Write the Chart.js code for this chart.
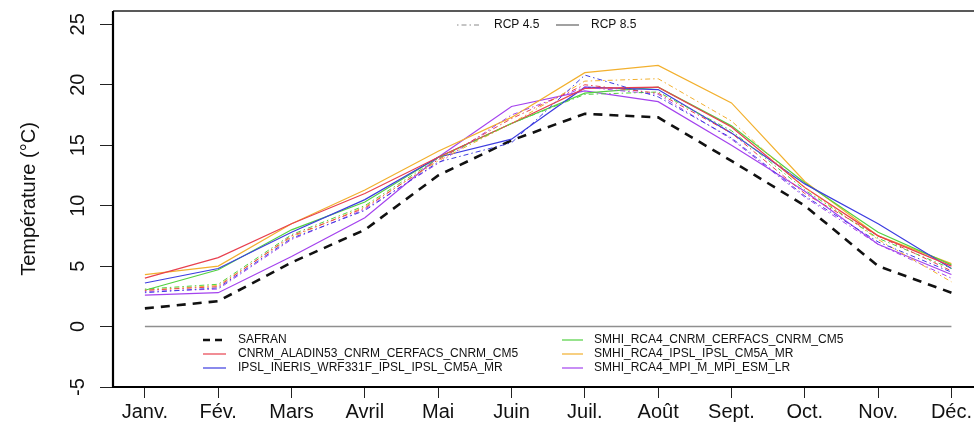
<!DOCTYPE html>
<html>
<head>
<meta charset="utf-8">
<script src="https://cdn.jsdelivr.net/npm/chart.js@4/dist/chart.umd.min.js"></script>
<style>
  html, body { margin: 0; padding: 0; background: #fff; }
  #wrap { width: 974px; height: 441px; position: relative; }
</style>
</head>
<body>
<div id="wrap"><canvas id="c" width="974" height="441"></canvas></div>
<script>
// Monthly mean temperature: SAFRAN reference and regional climate models (RCP 4.5 / RCP 8.5)
const months = ['Janv.', 'Fév.', 'Mars', 'Avril', 'Mai', 'Juin', 'Juil.', 'Août', 'Sept.', 'Oct.', 'Nov.', 'Déc.'];
const yTicks = [-5, 0, 5, 10, 15, 20, 25];

const safran = [1.5, 2.1, 5.3, 8.0, 12.5, 15.4, 17.6, 17.3, 13.7, 10.0, 5.0, 2.8];

const cnrmAladin85 = [4.0, 5.7, 8.5, 11.0, 14.0, 16.8, 19.7, 19.8, 16.5, 11.5, 7.5, 5.0];
const ipslWrf85    = [3.6, 4.8, 7.8, 10.5, 14.0, 15.5, 19.8, 19.6, 16.0, 11.8, 8.5, 4.8];
const rcaCnrm85    = [3.0, 4.7, 8.0, 10.3, 14.0, 16.8, 19.3, 19.8, 16.6, 11.9, 7.8, 5.1];
const rcaIpsl85    = [4.3, 5.0, 8.5, 11.3, 14.5, 17.3, 21.0, 21.6, 18.5, 12.0, 7.5, 5.2];
const rcaMpi85     = [2.6, 2.8, 5.8, 9.0, 14.0, 18.2, 19.5, 18.6, 15.0, 11.2, 6.8, 4.3];

const cnrmAladin45 = [3.0, 3.3, 7.5, 9.8, 13.8, 17.2, 20.0, 19.3, 16.0, 11.0, 7.5, 4.6];
const ipslWrf45    = [2.8, 3.2, 7.3, 9.6, 13.6, 15.2, 20.8, 19.0, 15.6, 10.8, 7.0, 4.5];
const rcaCnrm45    = [3.1, 3.5, 7.6, 10.0, 13.9, 16.8, 19.2, 19.4, 16.2, 11.3, 7.3, 4.8];
const rcaIpsl45    = [3.0, 3.4, 7.4, 9.9, 13.7, 16.8, 20.3, 20.5, 17.0, 11.5, 7.2, 3.7];
const rcaMpi45     = [2.9, 3.1, 7.2, 9.7, 13.5, 17.5, 19.8, 19.2, 15.5, 10.7, 6.8, 4.0];

const modelNames  = ['CNRM_ALADIN53_CNRM_CERFACS_CNRM_CM5', 'IPSL_INERIS_WRF331F_IPSL_IPSL_CM5A_MR',
                     'SMHI_RCA4_CNRM_CERFACS_CNRM_CM5', 'SMHI_RCA4_IPSL_IPSL_CM5A_MR', 'SMHI_RCA4_MPI_M_MPI_ESM_LR'];
const modelColors = ['#e8414f', '#3d3de0', '#52d142', '#f2b02e', '#a443ee'];
const rcp45 = [cnrmAladin45, ipslWrf45, rcaCnrm45, rcaIpsl45, rcaMpi45];
const rcp85 = [cnrmAladin85, ipslWrf85, rcaCnrm85, rcaIpsl85, rcaMpi85];

const FONT = '"Liberation Sans", Arial, Helvetica, sans-serif';
const DOTDASH = [1.5, 3, 5, 3];

const toPoints = arr => arr.map((v, i) => ({ x: i, y: v }));

const datasets = [];
modelNames.forEach((name, k) => {
  datasets.push({ label: name + ' (RCP 4.5)', data: toPoints(rcp45[k]), borderColor: modelColors[k],
                  borderWidth: 1, borderDash: DOTDASH });
});
modelNames.forEach((name, k) => {
  datasets.push({ label: name + ' (RCP 8.5)', data: toPoints(rcp85[k]), borderColor: modelColors[k],
                  borderWidth: 1.2 });
});
datasets.push({ label: 'SAFRAN', data: toPoints(safran), borderColor: '#111', borderWidth: 2.6,
                borderDash: [9, 7] });

function strokeSample(ctx, x1, x2, y, color, width, dash) {
  ctx.save();
  ctx.strokeStyle = color; ctx.lineWidth = width; ctx.setLineDash(dash || []);
  ctx.beginPath(); ctx.moveTo(x1, y); ctx.lineTo(x2, y); ctx.stroke();
  ctx.restore();
}

const frame = {
  id: 'frame',
  beforeDatasetsDraw(chart) {
    // horizontal reference at 0 °C, spanning January to December
    const { ctx, scales: { x, y } } = chart;
    strokeSample(ctx, x.getPixelForValue(0), x.getPixelForValue(months.length - 1),
                 y.getPixelForValue(0), '#8f8f8f', 1.6);
  },
  afterDraw(chart) {
    const { ctx, chartArea: a, scales: { y } } = chart;
    ctx.save();
    // plot box (open on the right, it runs past the canvas edge)
    ctx.strokeStyle = '#222'; ctx.lineWidth = 1.6;
    ctx.beginPath(); ctx.moveTo(a.right + 10, a.top); ctx.lineTo(a.left, a.top); ctx.stroke();
    ctx.strokeStyle = '#000'; ctx.lineWidth = 2.2;
    ctx.beginPath(); ctx.moveTo(a.left, a.top); ctx.lineTo(a.left, a.bottom); ctx.lineTo(a.right + 10, a.bottom); ctx.stroke();

    // rotated y tick labels
    ctx.fillStyle = '#111';
    ctx.font = '20px ' + FONT;
    ctx.textAlign = 'center'; ctx.textBaseline = 'middle';
    yTicks.forEach(v => {
      ctx.save();
      ctx.translate(78, y.getPixelForValue(v));
      ctx.rotate(-Math.PI / 2);
      ctx.fillText(String(v), 0, 0);
      ctx.restore();
    });
    // y axis title
    ctx.save();
    ctx.translate(29, (a.top + a.bottom) / 2);
    ctx.rotate(-Math.PI / 2);
    ctx.fillText('Température (°C)', 0, 0);
    ctx.restore();

    // scenario legend (top)
    ctx.font = '12px ' + FONT;
    ctx.textAlign = 'left';
    const ty = 25;
    strokeSample(ctx, 457, 482, ty, '#8a8a8a', 1, DOTDASH);
    ctx.fillText('RCP 4.5', 494, ty);
    strokeSample(ctx, 556, 579, ty, '#6e6e6e', 1.3);
    ctx.fillText('RCP 8.5', 591, ty);

    // series legend (bottom)
    const rows = [340, 354, 368];
    const c1 = { lx1: 203, lx2: 226, tx: 238 };
    const c2 = { lx1: 562, lx2: 583, tx: 594 };
    const entries = [{ name: 'SAFRAN', color: '#111', width: 2.6, dash: [7, 5] }]
      .concat(modelNames.map((n, k) => ({ name: n, color: modelColors[k], width: 1.2 })));
    entries.forEach((e, i) => {
      const col = i < 3 ? c1 : c2;
      const ry = rows[i % 3];
      strokeSample(ctx, col.lx1, col.lx2, ry, e.color, e.width, e.dash);
      ctx.fillStyle = '#111';
      ctx.fillText(e.name, col.tx, ry);
    });
    ctx.restore();
  }
};

new Chart(document.getElementById('c'), {
  type: 'line',
  data: { datasets },
  plugins: [frame],
  options: {
    responsive: false,
    animation: false,
    layout: { padding: { top: 11, left: 0, right: 0, bottom: 0 } },
    elements: { point: { radius: 0 }, line: { tension: 0 } },
    plugins: { legend: { display: false }, tooltip: { enabled: false } },
    scales: {
      x: {
        type: 'linear',
        min: -0.435,
        max: 11.26,
        afterFit: s => { s.height = 54; },
        afterBuildTicks: s => { s.ticks = months.map((m, i) => ({ value: i })); },
        grid: { drawOnChartArea: false, drawTicks: true, tickLength: 11, color: '#222', lineWidth: 1 },
        border: { display: false },
        ticks: {
          autoSkip: false, maxRotation: 0, padding: 2, color: '#111',
          font: { family: FONT, size: 20 },
          callback: v => months[v] ?? ''
        }
      },
      y: {
        type: 'linear',
        min: -5,
        max: 26.1,
        afterFit: s => { s.width = 113; },
        afterBuildTicks: s => { s.ticks = yTicks.map(v => ({ value: v })); },
        grid: { drawOnChartArea: false, drawTicks: true, tickLength: 13, color: '#222', lineWidth: 1 },
        border: { display: false },
        ticks: { display: false }
      }
    }
  }
});
</script>
</body>
</html>
